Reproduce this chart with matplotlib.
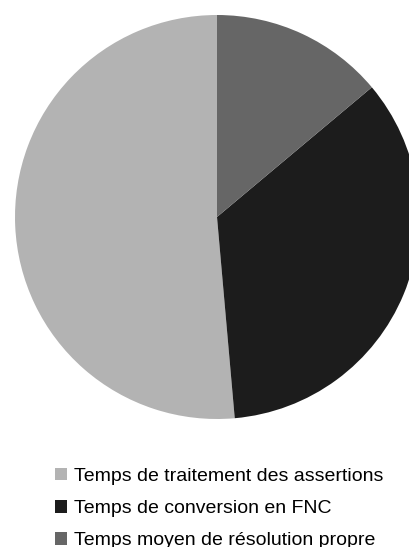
import matplotlib

matplotlib.use("Agg")

import matplotlib.pyplot as plt

labels = [
    "Temps de traitement des assertions",
    "Temps de conversion en FNC",
    "Temps moyen de résolution propre",
]
values = [51.4, 34.7, 13.9]
colors = ["#b3b3b3", "#1c1c1c", "#666666"]

W, H = 410, 547
fig = plt.figure(figsize=(W / 100, H / 100), dpi=100)

# pie centre at (217, 217) px from top-left, radius 202 px
cx, cy, r = 217, 217, 202
ax = fig.add_axes([(cx - r) / W, (H - cy - r) / H, 2 * r / W, 2 * r / H])
wedges, _ = ax.pie(
    values,
    colors=colors,
    startangle=90,
    counterclock=True,
    radius=1.0,
    wedgeprops={"linewidth": 0},
)
ax.set_xlim(-1, 1)
ax.set_ylim(-1, 1)
ax.set_aspect("equal")
ax.axis("off")

leg = fig.legend(
    wedges,
    labels,
    loc="upper left",
    bbox_to_anchor=(55 / W, 1 - 468 / H),
    frameon=False,
    borderpad=0,
    borderaxespad=0,
    handlelength=0.6,
    handleheight=0.6,
    handletextpad=0.4,
    labelspacing=0.78,
    prop={"family": "Liberation Sans", "size": 14},
)

fig.savefig("out.png", dpi=100)
